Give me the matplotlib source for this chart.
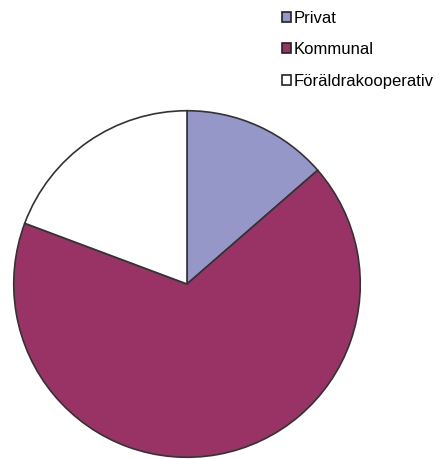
import matplotlib.pyplot as plt
from matplotlib.patches import Patch

labels = ['Privat', 'Kommunal', 'Föräldrakooperativ']
values = [13.6, 67.1, 19.3]
colors = ['#9497c8', '#993366', '#ffffff']

plt.rcParams['font.family'] = ['Liberation Sans', 'DejaVu Sans']

fig = plt.figure(figsize=(4.42, 4.59), dpi=100)
ax = fig.add_axes([12/442, 0/459, 350/442, 350/459])
ax.pie(values, colors=colors, startangle=90, counterclock=False,
       wedgeprops=dict(edgecolor='#333333', linewidth=1.2))
ax.set_xlim(-1.01, 1.01)
ax.set_ylim(-1.01, 1.01)
ax.set_aspect('equal')

handles = [Patch(facecolor=c, edgecolor='#222222', linewidth=1.2) for c in colors]
leg = fig.legend(handles, labels, loc='upper left', bbox_to_anchor=(267/442, 1 + 4/459),
                 frameon=False, fontsize=12, handlelength=0.55, handleheight=0.55,
                 handletextpad=0.15, labelspacing=0.98, borderpad=0.4)
fig.savefig('out.png', dpi=100)
